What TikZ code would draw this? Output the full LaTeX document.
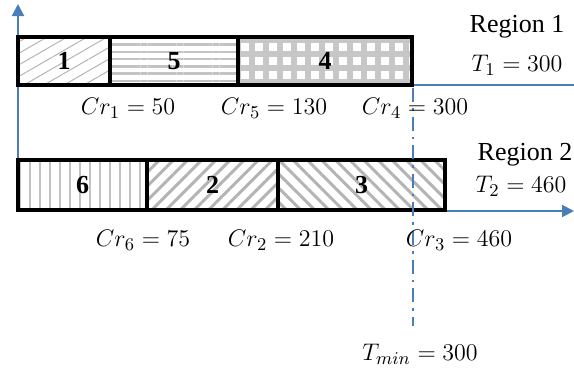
\documentclass[tikz,border=0pt]{standalone}
\usepackage{fontspec}
\setmainfont{Liberation Serif}
\usepackage{tikz}
\usetikzlibrary{arrows.meta, positioning, patterns, patterns.meta}
\definecolor{axisblue}{HTML}{4A7EBB}
\definecolor{patgray}{HTML}{B4B4B4}
\tikzset{
  jobbox/.style={draw=black, line width=2pt, outer sep=0pt, inner sep=0pt,
                 font=\fontsize{13}{15}\selectfont\bfseries},
  rowone/.style={jobbox, minimum height=24pt},
  rowtwo/.style={jobbox, minimum height=25pt},
  axisarr/.style={-{Triangle[length=6pt,width=6pt]}, axisblue, line width=1pt},
  axisline/.style={axisblue, line width=1pt},
  tminline/.style={axisblue, line width=1.3pt,
                   dash pattern=on 7pt off 3pt on 1.3pt off 3pt},
  crlabel/.style={font=\fontsize{13}{15}\selectfont, inner sep=1pt},
  reglabel/.style={font=\fontsize{13}{15}\selectfont, inner sep=1pt},
}

\begin{document}
\begin{tikzpicture}[x=0.5pt, y=-0.5pt]

  \useasboundingbox (0,0) rectangle (574,376);

  %% axes
  \coordinate (origin) at (18,211);
  \coordinate (ytip) at (18,4);
  \coordinate (xtip) at (574,211);
  \coordinate (r1start) at (18,85);
  \coordinate (r1end) at (574,85);
  \draw[axisarr] (origin) -- (ytip);
  \draw[axisarr] (origin) -- (xtip);
  \draw[axisline] (r1start) -- (r1end);

  %% REGION 1 row
  \node[rowone, anchor=north west, minimum width=46pt,
        pattern={Lines[angle=30,distance=5pt,line width=0.5pt]}, pattern color=patgray]
    (j1) at (18,37) {};
  \node[rowone, anchor=north west, minimum width=46pt] at (18,37) {1};
  \node[rowone, right=0pt of j1, minimum width=64pt,
        pattern={Lines[angle=0,distance=3.6pt,line width=1.3pt]}, pattern color=patgray!80]
    (j5) {};
  \node[rowone, right=0pt of j1, minimum width=64pt] (j5t) {5};
  \node[rowone, right=0pt of j5, minimum width=87pt,
        pattern={Hatch[distance=7pt,line width=3pt]}, pattern color=patgray!75]
    (j4) {};
  \node[rowone, right=0pt of j5, minimum width=87pt] (j4t) {4};

  %% REGION 2 row
  \node[rowtwo, anchor=north west, minimum width=64.5pt,
        pattern={Lines[angle=90,distance=5pt,line width=0.6pt]}, pattern color=patgray!80]
    (j6) at (18,160) {};
  \node[rowtwo, anchor=north west, minimum width=64.5pt] at (18,160) {6};
  \node[rowtwo, right=0pt of j6, minimum width=65.5pt,
        pattern={Lines[angle=45,distance=5pt,line width=1.5pt]}, pattern color=patgray]
    (j2) {};
  \node[rowtwo, right=0pt of j6, minimum width=65.5pt] (j2t) {2};
  \node[rowtwo, right=0pt of j2, minimum width=83.5pt,
        pattern={Lines[angle=-45,distance=5pt,line width=1.5pt]}, pattern color=patgray]
    (j3) {};
  \node[rowtwo, right=0pt of j2, minimum width=83.5pt] (j3t) {3};

  %% T_min line
  \coordinate (ttop) at (413,88);
  \coordinate (tbot) at (413,326);
  \draw[tminline] (ttop) -- (tbot);

  %% labels
  \node[crlabel] (cr1) at (128,108) {$Cr_1 = 50$};
  \node[crlabel] (cr5) at (274,108) {$Cr_5 = 130$};
  \node[crlabel] (cr4) at (415,108) {$Cr_4 = 300$};
  \node[crlabel] (cr6) at (143,240) {$Cr_6 = 75$};
  \node[crlabel] (cr2) at (281,240) {$Cr_2 = 210$};
  \node[crlabel] (cr3) at (459,240) {$Cr_3 = 460$};
  \node[crlabel] (tmin) at (420,354) {$T_{min} = 300$};
  \node[reglabel] (reg1) at (517,27) {Region 1};
  \node[crlabel] (t1) at (517,65) {$T_1 = 300$};
  \node[reglabel] (reg2) at (525,155) {Region 2};
  \node[crlabel] (t2) at (521,186) {$T_2 = 460$};

\end{tikzpicture}
\end{document}
